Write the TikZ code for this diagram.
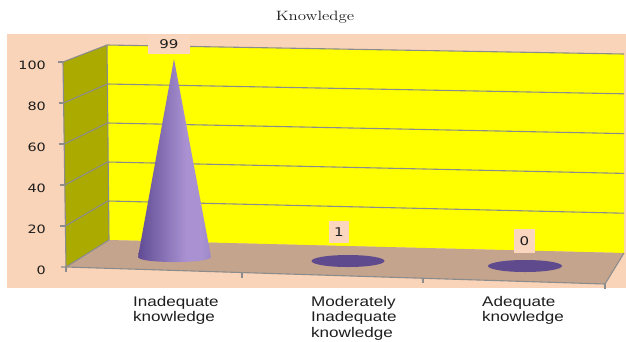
\documentclass[tikz,border=0pt]{standalone}
\usepackage{fontspec}
\newfontfamily\numfont[FakeStretch=1.25]{DejaVu Sans}
\newfontfamily\catfont[FakeStretch=1.22]{Liberation Sans}
\definecolor{peach}{RGB}{250,212,184}
\definecolor{peachbox}{RGB}{250,214,190}
\definecolor{wallyel}{RGB}{255,255,0}
\definecolor{wallside}{RGB}{170,170,0}
\definecolor{floorc}{RGB}{196,164,140}
\definecolor{gridc}{RGB}{140,140,140}
\definecolor{conedark}{RGB}{96,76,148}
\definecolor{conelight}{RGB}{170,146,210}
\definecolor{conemid}{RGB}{118,98,168}
\definecolor{discc}{RGB}{94,74,140}
\definecolor{txt}{RGB}{30,30,30}
\pgfdeclarehorizontalshading{conesh}{100bp}{color(0bp)=(conedark); color(25bp)=(conedark); color(58bp)=(conelight); color(68bp)=(conelight); color(100bp)=(conemid)}
\begin{document}
\begin{tikzpicture}[x=1pt,y=-1pt,
  gridline/.style={draw=gridc,line width=1.1pt},
  axisnum/.style={font=\numfont\fontsize{11.5}{13}\selectfont,text=txt,anchor=east,inner sep=0pt},
  datalbl/.style={font=\numfont\fontsize{12}{14}\selectfont,text=txt,fill=peachbox,inner sep=0pt},
  catlbl/.style={font=\catfont\fontsize{14}{15.6}\selectfont,text=txt,anchor=north west,align=left,inner sep=0pt}]
\useasboundingbox (0,0) rectangle (626,341);
\fill[white] (0,0) rectangle (626,341);
\fill[peach] (7,34) rectangle (626,288);
% title
\node[font=\fontsize{13.5}{15}\selectfont,text=txt] (title) at (315,17) {\scalebox{1.25}[1]{Knowledge}};
% walls
\coordinate (BTL) at (107,45);
\coordinate (BTR) at (624,54);
\coordinate (BBR) at (624,253);
\coordinate (BBL) at (109,240);
\coordinate (FTL) at (63,62);
\coordinate (FBL) at (66,267);
\coordinate (FBR) at (605,284);
\fill[wallyel] (BTL) -- (BTR) -- (BBR) -- (BBL) -- cycle;
\fill[wallside] (FTL) -- (BTL) -- (BBL) -- (FBL) -- cycle;
\fill[floorc] (FBL) -- (BBL) -- (BBR) -- (FBR) -- cycle;
% grid lines
\foreach \k in {1,...,5}{
  \draw[gridline] ({108-0.2*\k},{240-39*\k}) -- (624,{253-39.8*\k});
  \draw[gridline] ({66-0.6*\k},{267-41*\k}) -- ({108-0.2*\k},{240-39*\k});
  \draw[gridline] ({61-0.6*\k},{267-41*\k}) -- ({66-0.6*\k},{267-41*\k});
}
\draw[gridline] (BTL) -- (BBL);
\draw[gridline] (FTL) -- (FBL);
\draw[gridline] (61,267) -- (FBL) -- (BBL);
\draw[gridline] (FBL) -- (FBR) -- (BBR);
\draw[gridline] (FBL) -- ++(0,5);
\draw[gridline] (242,272.5) -- ++(0,5);
\draw[gridline] (423,278.3) -- ++(0,5);
\draw[gridline] (FBR) -- ++(0,5);
% axis numbers
\node[axisnum] (y0) at (46,270) {0};
\node[axisnum] (y20) at (46,229) {20};
\node[axisnum] (y40) at (46,188) {40};
\node[axisnum] (y60) at (46,147) {60};
\node[axisnum] (y80) at (46,106) {80};
\node[axisnum] (y100) at (46,65) {100};
% cone
\shade[shading=conesh] (138,257) -- (174,59) -- (211,257)
  .. controls (211,263.7) and (138,263.7) .. (138,257) -- cycle;
% discs
\fill[discc] (348,261) ellipse[x radius=36.5pt,y radius=6pt];
\fill[discc] (525,266) ellipse[x radius=37pt,y radius=6pt];
% data labels
\node[datalbl,minimum width=42pt,minimum height=19pt] (l99) at (169,44.5) {99};
\node[datalbl,minimum width=20pt,minimum height=22pt] (l1) at (339,232) {1};
\node[datalbl,minimum width=21pt,minimum height=24pt] (l0) at (524.5,241) {0};
% category labels
\node[catlbl] (c1) at (133,296) {Inadequate\\knowledge};
\node[catlbl] (c2) at (311,296) {Moderately\\Inadequate\\knowledge};
\node[catlbl] (c3) at (482,296) {Adequate\\knowledge};
\end{tikzpicture}
\end{document}
